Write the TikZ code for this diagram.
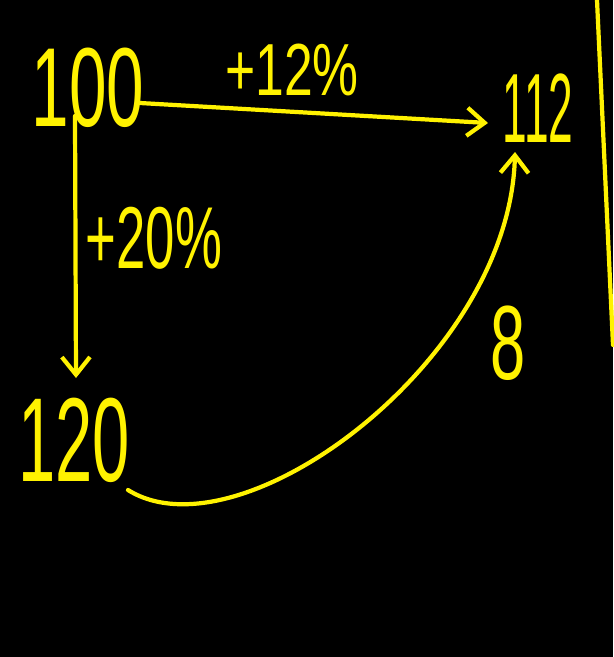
\documentclass[tikz,border=0pt]{standalone}
\usepackage{graphicx}
\usepackage{fontspec}
\setmainfont{Liberation Sans}
\usetikzlibrary{arrows.meta}

\tikzset{
  ink/.style={draw=yellow,line width=2.4pt,line cap=round,line join=round},
  barb/.style={-{Straight Barb[length=10pt,width=16pt,line width=2.4pt]}},
  num/.style={text=yellow,inner sep=0pt}
}
\newcommand{\hand}[3]{\scalebox{#2}[1]{\fontsize{#1}{#1}\selectfont #3}}

\begin{document}
\begin{tikzpicture}[x=0.02cm,y=-0.02cm]
\fill[black] (0,0) rectangle (613,657);
\useasboundingbox (0,0) rectangle (613,657);

\node[num] (hundred) at (88,88) {\hand{64pt}{0.6}{100}};
\node[num] (onetwelve) at (538,108) {\hand{56pt}{0.45}{112}};
\node[num] (onetwenty) at (74,440) {\hand{68pt}{0.56}{120}};

\node[num] (upA) at (292,70) {\hand{42pt}{0.7}{+12\%}};
\node[num] (upB) at (154,238) {\hand{50pt}{0.6}{+20\%}};
\node[num] (diff) at (508,343) {\hand{60pt}{0.6}{8}};

\coordinate (hR) at (140,103);
\coordinate (hB) at (75,116);
\coordinate (tL) at (488,123);
\coordinate (tB) at (515,152);
\coordinate (wT) at (76,378);
\coordinate (wR) at (128,490);

\draw[ink,barb] (hR) to (tL);
\draw[ink,barb] (hB) to (wT);
\draw[ink,barb] (wR) .. controls (240,560) and (510,360) .. (tB);

\coordinate (edgeT) at (597,0);
\coordinate (edgeB) at (613,345);
\draw[ink] (edgeT) -- (edgeB);
\end{tikzpicture}
\end{document}
